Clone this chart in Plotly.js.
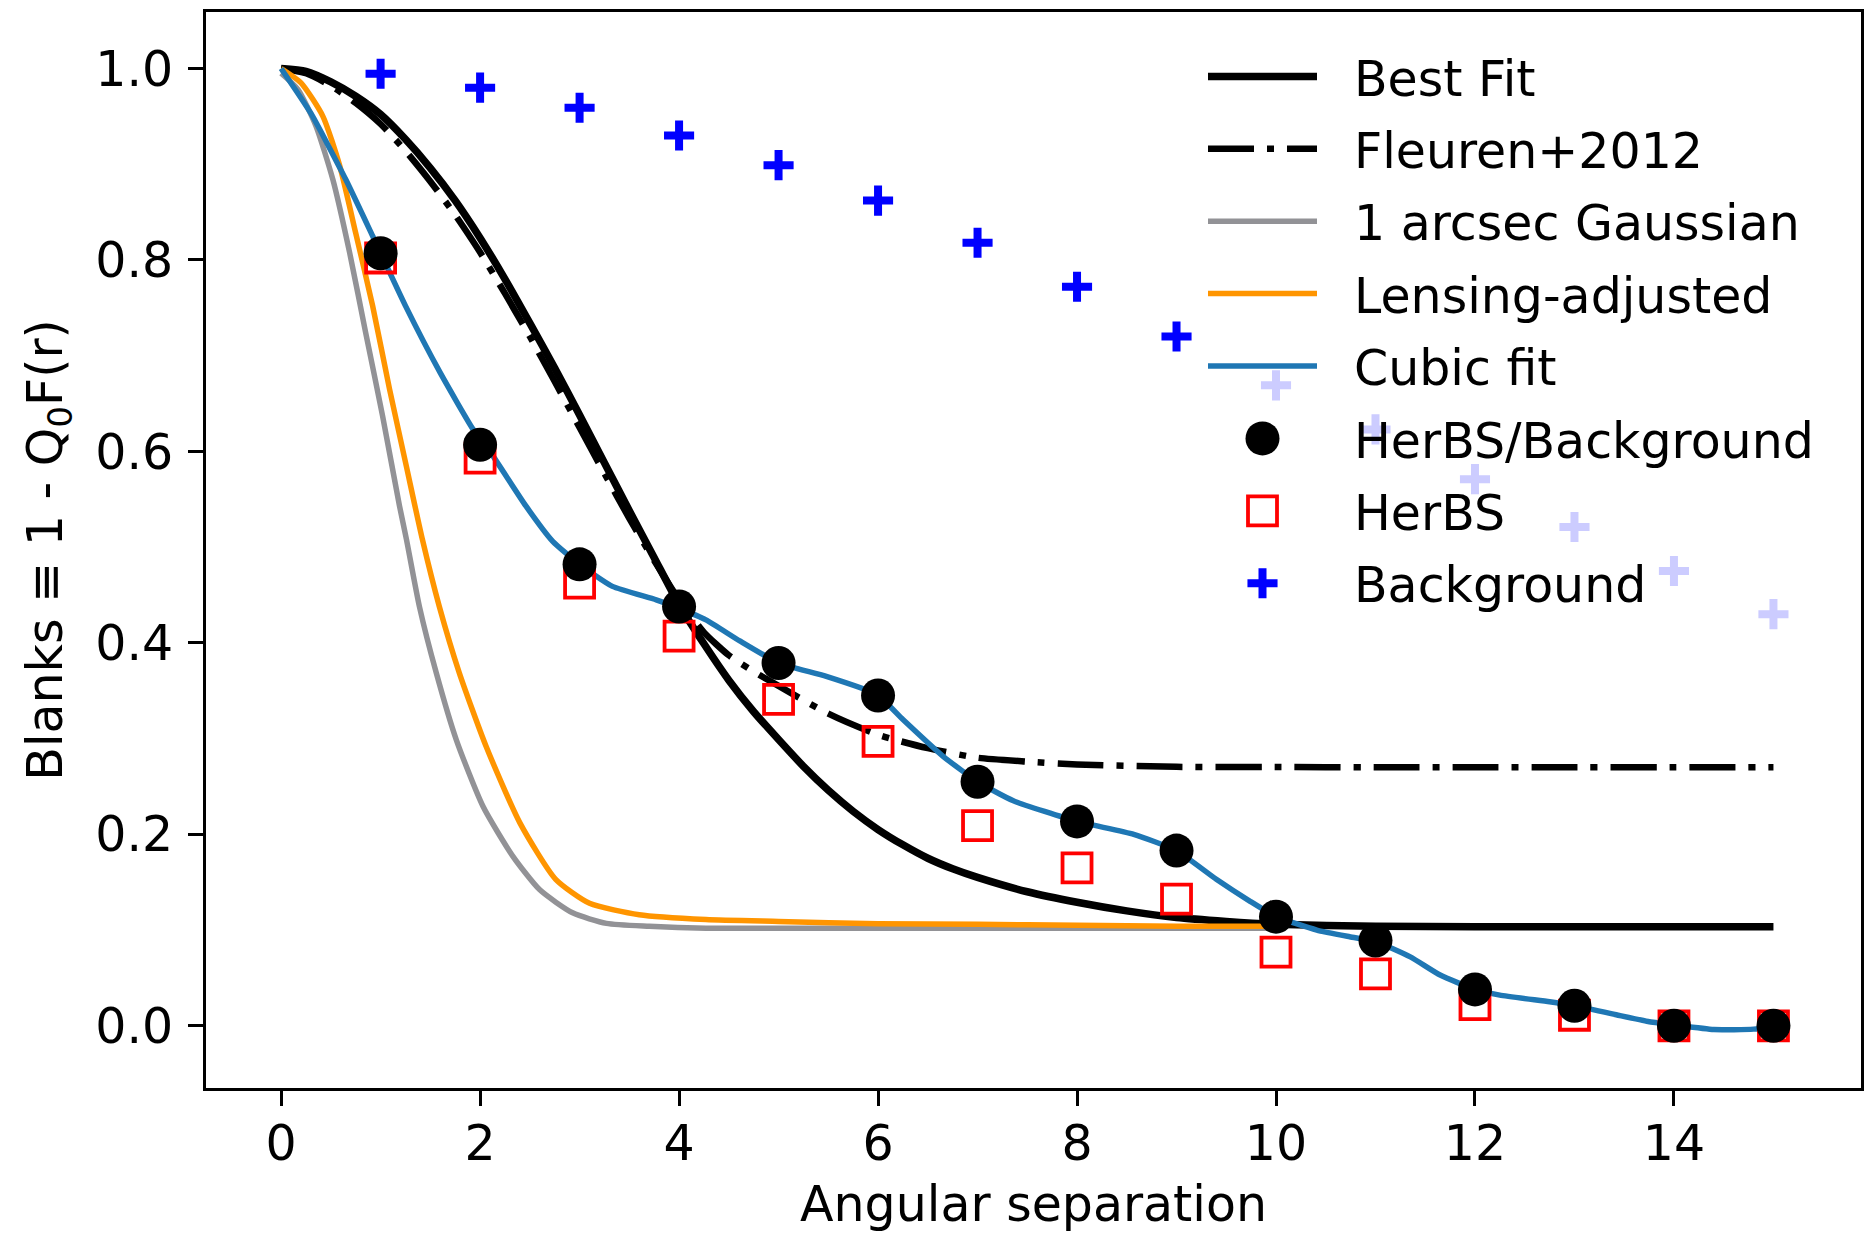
<!DOCTYPE html>
<html>
<head>
<meta charset="utf-8">
<script src="https://cdn.plot.ly/plotly-3.0.1.min.js"></script>
<style>
  html, body { margin: 0; padding: 0; background: #ffffff; }
  #chart { width: 1866px; height: 1237px; }
</style>
</head>
<body>
<div id="chart"></div>
<script>
// ---- data ----
const sepPoints = [1, 2, 3, 4, 5, 6, 7, 8, 9, 10, 11, 12, 13, 14, 15];
const herbsOverBackground = [0.807, 0.607, 0.482, 0.438, 0.379, 0.345, 0.255, 0.2135, 0.183, 0.114, 0.089, 0.038, 0.021, 0.0, 0.0];
const herbs = [0.802, 0.593, 0.4625, 0.407, 0.341, 0.297, 0.209, 0.165, 0.1324, 0.077, 0.0543, 0.022, 0.011, 0.0, 0.0];
const background = [0.9945, 0.980, 0.959, 0.930, 0.899, 0.862, 0.818, 0.772, 0.720, 0.669, 0.623, 0.571, 0.521, 0.475, 0.430];

const bestFitX = [0, 0.25, 0.5, 0.75, 1, 1.25, 1.5, 1.75, 2, 2.25, 2.5, 2.75, 3, 3.25, 3.5, 3.75, 4, 4.25, 4.5, 4.75, 5, 5.25, 5.5, 5.75, 6, 6.25, 6.5, 6.75, 7, 7.5, 8, 8.5, 9, 9.5, 10, 11, 12, 13, 14, 15];
const bestFitY = [1.0, 0.997, 0.986, 0.971, 0.952, 0.926, 0.896, 0.862, 0.823, 0.780, 0.734, 0.687, 0.638, 0.588, 0.538, 0.489, 0.440, 0.399, 0.361, 0.328, 0.299, 0.271, 0.246, 0.224, 0.205, 0.189, 0.175, 0.164, 0.155, 0.140, 0.129, 0.120, 0.113, 0.109, 0.106, 0.104, 0.1035, 0.1035, 0.1035, 0.1035];

const fleurenX = [0, 0.25, 0.5, 0.75, 1, 1.25, 1.5, 1.75, 2, 2.25, 2.5, 2.75, 3, 3.25, 3.5, 3.75, 4, 4.25, 4.5, 4.75, 5, 5.5, 6, 6.5, 7, 7.5, 8, 9, 10, 11, 12, 13, 14, 15];
const fleurenY = [1.0, 0.995, 0.982, 0.964, 0.942, 0.914, 0.882, 0.847, 0.808, 0.765, 0.720, 0.673, 0.625, 0.577, 0.530, 0.486, 0.445, 0.411, 0.387, 0.370, 0.355, 0.326, 0.304, 0.290, 0.280, 0.276, 0.273, 0.2705, 0.2703, 0.270, 0.270, 0.270, 0.270, 0.270];

const gaussX = [0, 0.17, 0.35, 0.52, 0.69, 0.85, 1.02, 1.19, 1.26, 1.39, 1.56, 1.76, 2.03, 2.33, 2.6, 2.93, 3.27, 3.7, 4.27, 5, 6, 7, 8, 9, 10];
const gaussY = [0.995, 0.978, 0.940, 0.884, 0.807, 0.724, 0.637, 0.543, 0.508, 0.438, 0.3685, 0.299, 0.229, 0.177, 0.142, 0.118, 0.107, 0.104, 0.102, 0.102, 0.102, 0.102, 0.102, 0.102, 0.102];

const lensX = [0, 0.2, 0.42, 0.59, 0.75, 0.92, 1.09, 1.26, 1.42, 1.59, 1.79, 2.06, 2.4, 2.76, 3.1, 3.6, 4.27, 5, 6, 7, 8, 9, 10];
const lensY = [1.0, 0.985, 0.950, 0.898, 0.828, 0.752, 0.665, 0.584, 0.508, 0.438, 0.369, 0.292, 0.212, 0.153, 0.128, 0.116, 0.111, 0.109, 0.1065, 0.106, 0.105, 0.104, 0.104];

const cubicX = [0, 0.3, 0.65, 0.92, 1.25, 1.6, 1.93, 2.13, 2.46, 2.73, 3.0, 3.33, 3.77, 4.0, 4.27, 4.61, 5.0, 5.48, 5.99, 6.25, 6.66, 7.0, 7.36, 8.0, 8.57, 9.0, 9.4, 9.74, 10.0, 10.41, 10.74, 11.0, 11.35, 11.65, 12.0, 12.25, 12.75, 13.0, 13.42, 13.74, 14.0, 14.4, 14.8, 15.0];
const cubicY = [1.0, 0.953, 0.884, 0.825, 0.752, 0.682, 0.623, 0.595, 0.543, 0.506, 0.482, 0.459, 0.445, 0.436, 0.424, 0.402, 0.379, 0.365, 0.346, 0.320, 0.281, 0.255, 0.235, 0.2135, 0.200, 0.183, 0.153, 0.130, 0.114, 0.100, 0.093, 0.088, 0.072, 0.053, 0.038, 0.032, 0.025, 0.021, 0.0115, 0.0045, 0.001, -0.004, -0.0035, -0.001];

const xTickVals = [0, 2, 4, 6, 8, 10, 12, 14];
const yTickVals = [0.0, 0.2, 0.4, 0.6, 0.8, 1.0];

// ---- traces (draw order) ----
const FONT = 'DejaVu Sans, Verdana, sans-serif';
const traces = [
  { name: 'Best Fit', x: bestFitX, y: bestFitY, mode: 'lines', legendrank: 1, legendgroup: 'g1',
    line: { color: '#000000', width: 7.5, shape: 'spline', smoothing: 0.6 } },
  { name: 'Fleuren+2012', x: fleurenX, y: fleurenY, mode: 'lines', legendrank: 2, legendgroup: 'g2',
    line: { color: '#000000', width: 6.5, dash: '46px,13px,7px,13px', shape: 'spline', smoothing: 0.6 } },
  { name: '1 arcsec Gaussian', x: gaussX, y: gaussY, mode: 'lines', legendrank: 3, legendgroup: 'g3',
    line: { color: '#929296', width: 5.5, shape: 'spline', smoothing: 0.6 } },
  { name: 'Lensing-adjusted', x: lensX, y: lensY, mode: 'lines', legendrank: 4, legendgroup: 'g4',
    line: { color: '#ff9500', width: 5.5, shape: 'spline', smoothing: 0.6 } },
  { name: 'Cubic fit', x: cubicX, y: cubicY, mode: 'lines', legendrank: 5, legendgroup: 'g5',
    line: { color: '#1f77b4', width: 5.5, shape: 'spline', smoothing: 0.5 } },
  { name: 'HerBS', x: sepPoints, y: herbs, mode: 'markers', legendrank: 7, legendgroup: 'g7',
    marker: { symbol: 'square-open', size: 29, color: '#ff0000', line: { color: '#ff0000', width: 3.8 } } },
  { name: 'HerBS/Background', x: sepPoints, y: herbsOverBackground, mode: 'markers', legendrank: 6, legendgroup: 'g6',
    marker: { symbol: 'circle', size: 34, color: '#000000', line: { width: 0 } } },
  { name: 'Background', x: sepPoints, y: background, mode: 'markers', legendrank: 8, legendgroup: 'g8',
    marker: { symbol: 'cross-thin', size: 21.5, color: '#0000ff', line: { color: '#0000ff', width: 8 } } }
];

const axisCommon = {
  showgrid: false, zeroline: false,
  showline: true, mirror: true, linecolor: '#000000', linewidth: 3,
  ticks: 'outside', ticklen: 15, tickwidth: 3, tickcolor: '#000000',
  tickfont: { family: FONT, size: 49, color: '#000000' }
};

const HANDLE_LEN = 109;   // legend handle length (px)
const LEGEND_EXTRA_BOTTOM = 24; // extra translucent legend background below last entry

const layout = {
  width: 1866, height: 1237,
  margin: { l: 206, r: 5, t: 12, b: 149 },
  paper_bgcolor: '#ffffff', plot_bgcolor: '#ffffff',
  font: { family: FONT, size: 49, color: '#000000' },
  showlegend: true,
  xaxis: Object.assign({}, axisCommon, {
    range: [-0.755, 15.88], tickmode: 'array', tickvals: xTickVals,
    ticktext: xTickVals.map(String), ticklabelstandoff: -5,
    title: { text: 'Angular separation', font: { family: FONT, size: 49, color: '#000000' }, standoff: 16 }
  }),
  yaxis: Object.assign({}, axisCommon, {
    range: [-0.065, 1.059], tickmode: 'array', tickvals: yTickVals,
    ticktext: yTickVals.map(v => v.toFixed(1)), ticklabelstandoff: 5,
    title: { text: 'Blanks ≡ 1 - Q<sub>0</sub>F(r)', font: { family: FONT, size: 49, color: '#000000' }, standoff: 18 }
  }),
  legend: {
    x: (1203 - 206) / 1655, y: 0.9758, xanchor: 'left', yanchor: 'top',
    bgcolor: 'rgba(255,255,255,0.8)', borderwidth: 0,
    font: { family: FONT, size: 49, color: '#000000' },
    traceorder: 'grouped', tracegroupgap: 5.7, itemwidth: 141
  }
};

Plotly.newPlot('chart', traces, layout, { staticPlot: true, displayModeBar: false }).then(function (gd) {
  // matplotlib-like legend handles: shorter line samples, full-size markers
  gd.querySelectorAll('.legend .traces').forEach(function (g) {
    const d = g.__data__;
    const tr = d && d[0] && d[0].trace;
    if (!tr) return;
    g.querySelectorAll('.legendlines path').forEach(function (p) {
      p.setAttribute('d', 'M5,0h' + HANDLE_LEN);
    });
    if (tr.mode.indexOf('markers') < 0) return;
    const k = tr.marker.size / 16;
    g.querySelectorAll('.legendpoints path.scatterpts').forEach(function (p) {
      p.setAttribute('transform', 'translate(' + (5 + HANDLE_LEN / 2) + ',0) scale(' + k + ')');
      p.style.vectorEffect = 'non-scaling-stroke';
      if (tr.marker.line && tr.marker.line.width) p.style.strokeWidth = tr.marker.line.width + 'px';
    });
  });
  // slightly taller legend background, like matplotlib's frame padding
  gd.querySelectorAll('.legend rect.bg').forEach(function (r) {
    const h = parseFloat(r.getAttribute('height')) || 0;
    r.setAttribute('height', h + LEGEND_EXTRA_BOTTOM);
  });
});
</script>
</body>
</html>
